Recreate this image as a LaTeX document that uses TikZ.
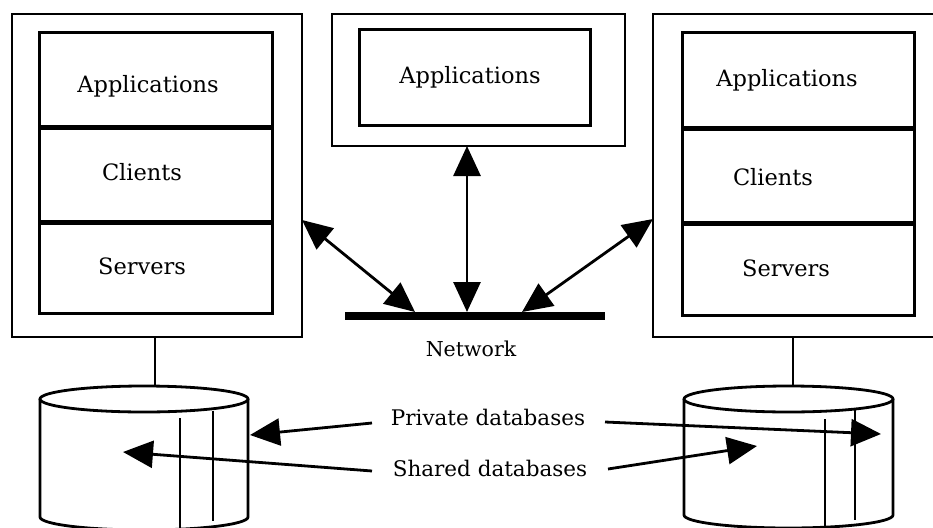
\documentclass[tikz,border=0pt]{standalone}
\usepackage{fontspec}
\setmainfont{DejaVu Serif}
\usetikzlibrary{arrows.meta}
\begin{document}
\begin{tikzpicture}[x=1pt,y=-1pt,
  frame/.style={draw, line width=2.7pt, inner sep=0pt, outer sep=0pt},
  layer/.style={draw, line width=3pt, inner sep=0pt, outer sep=0pt},
  boxtxt/.style={font=\fontsize{22.5}{26}\selectfont, anchor=base, inner sep=0pt},
  lbl/.style={font=\fontsize{21.5}{25}\selectfont, anchor=base, inner sep=0pt},
  link/.style={line width=2.7pt},
  cyl/.style={line width=2.8pt},
  tip/.tip={Triangle[length=30pt,width=27pt]},
  arr/.style={line width=2.8pt, -tip},
  biarr/.style={line width=2.8pt, tip-tip}
]
\clip (0,0) rectangle (933,527);
\fill[white] (0,0) rectangle (933,527);

% left workstation
\node[frame, minimum width=290pt, minimum height=323pt] (lout) at (157,175.5) {};
\node[layer, minimum width=233pt, minimum height=95pt] (lapp) at (155.5,80.5) {};
\node[layer, minimum width=233pt, minimum height=97pt] (lcli) at (155.5,174.5) {};
\node[layer, minimum width=233pt, minimum height=92pt] (lsrv) at (155.5,267) {};
\node[boxtxt] (lappt) at (148,92) {Applications};
\node[boxtxt] (lclit) at (142,180) {Clients};
\node[boxtxt] (lsrvt) at (142,274) {Servers};

% middle workstation
\node[frame, minimum width=293pt, minimum height=132pt] (mout) at (478.5,80) {};
\node[layer, minimum width=231pt, minimum height=95pt] (mapp) at (474.5,77.5) {};
\node[boxtxt] (mappt) at (470,83) {Applications};

% right workstation
\node[frame, minimum width=307pt, minimum height=323pt] (rout) at (806.5,175.5) {};
\node[layer, minimum width=232pt, minimum height=96pt] (rapp) at (798,81) {};
\node[layer, minimum width=232pt, minimum height=97pt] (rcli) at (798,175.5) {};
\node[layer, minimum width=232pt, minimum height=93pt] (rsrv) at (798,268.5) {};
\node[boxtxt] (rappt) at (787,86) {Applications};
\node[boxtxt] (rclit) at (773,185) {Clients};
\node[boxtxt] (rsrvt) at (786,276) {Servers};

% network bus
\node[fill, inner sep=0pt, outer sep=0pt, minimum width=260pt, minimum height=8pt] (net) at (475,316) {};
\node[lbl, font=\fontsize{20.5}{24}\selectfont] (nett) at (471,356) {Network};
\coordinate (netL) at (415,312);
\coordinate (netM) at (467,312);
\coordinate (netR) at (522,312);
\coordinate (lport) at (302,220);
\coordinate (mport) at (467,146);
\coordinate (rport) at (653,219);
\draw[biarr] (lport) -- (netL);
\draw[biarr] (mport) -- (netM);
\draw[biarr] (rport) -- (netR);

% databases
\draw[cyl] (144,399) ellipse [x radius=104, y radius=13];
\draw[cyl] (40,399) -- (40,517) arc[start angle=180, end angle=0, x radius=104, y radius=13] -- (248,399);
\draw[cyl] (180,418) -- (180,530);
\draw[cyl] (213,411) -- (213,521);
\coordinate (ldb) at (155,386);

\draw[cyl] (788.5,399) ellipse [x radius=104.5, y radius=13];
\draw[cyl] (684,399) -- (684,515) arc[start angle=180, end angle=0, x radius=104.5, y radius=13] -- (893,399);
\draw[cyl] (825,419) -- (825,530);
\draw[cyl] (855,410) -- (855,520);
\coordinate (rdb) at (793,386);

\draw[link] (lout.south -| ldb) -- (ldb);
\draw[link] (rout.south -| rdb) -- (rdb);

% database labels
\node[lbl] (priv) at (488,425) {Private databases};
\node[lbl] (shrd) at (490,476) {Shared databases};
\coordinate (privL) at (372,423);
\coordinate (privR) at (605,422);
\coordinate (shrdL) at (372,471);
\coordinate (shrdR) at (608,469);
\coordinate (ldbPriv) at (250,435);
\coordinate (rdbPriv) at (881,434);
\coordinate (ldbShrd) at (123,452);
\coordinate (rdbShrd) at (757,446);
\draw[arr] (privL) -- (ldbPriv);
\draw[arr] (privR) -- (rdbPriv);
\draw[arr] (shrdL) -- (ldbShrd);
\draw[arr] (shrdR) -- (rdbShrd);
\end{tikzpicture}
\end{document}
